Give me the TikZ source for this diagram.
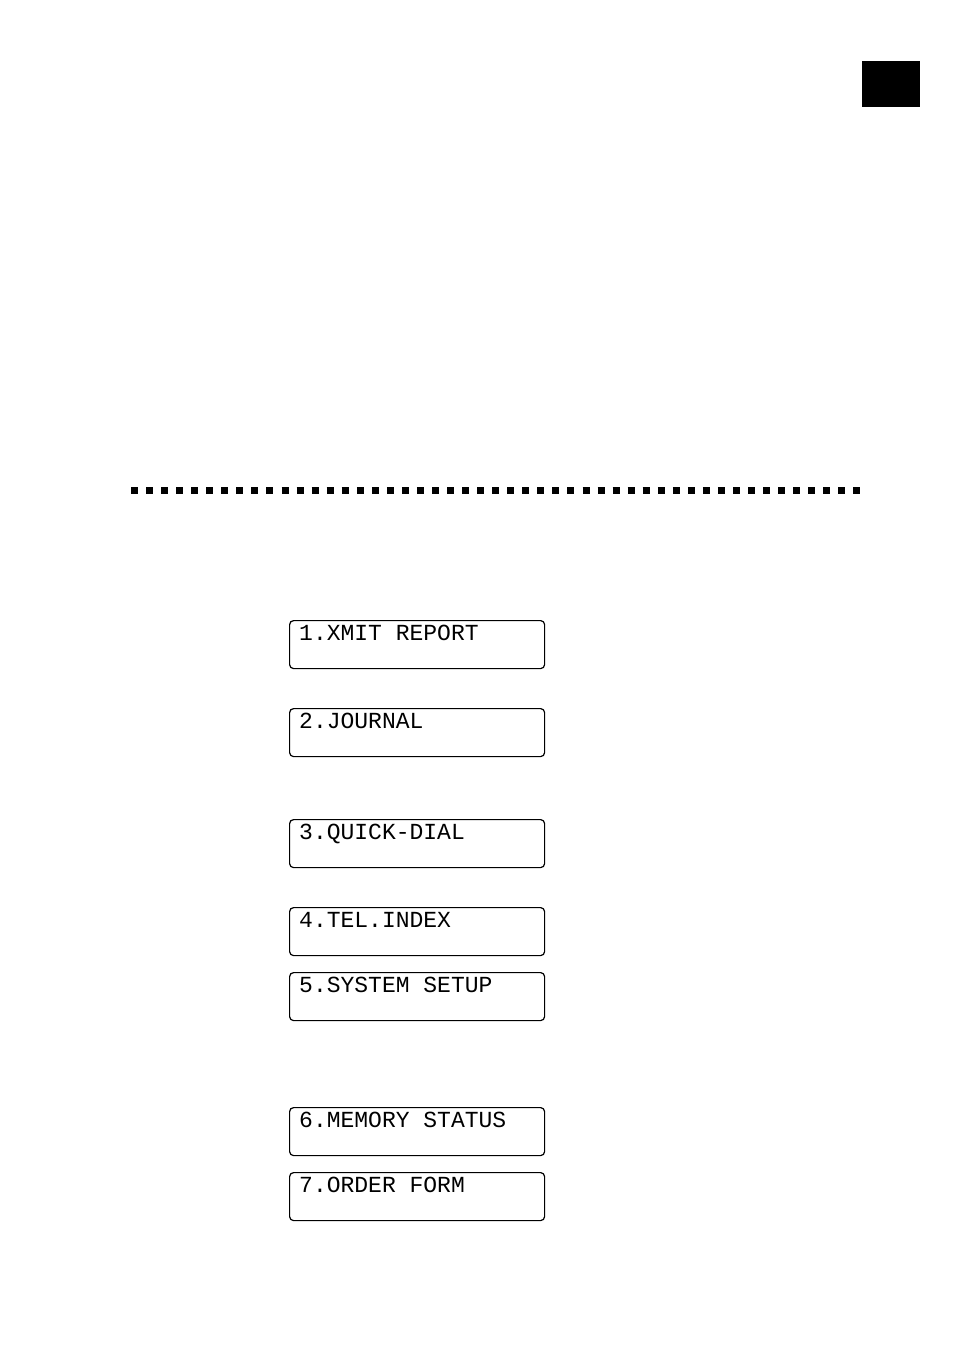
\documentclass[tikz,border=0pt]{standalone}
\usepackage{fontspec}
\newfontfamily\lcd{Liberation Mono}
\begin{document}
\begin{tikzpicture}[x=1pt,y=-1pt,
  lcdbox/.style={draw,line width=1.2pt,rounded corners=4pt,minimum width=255pt,minimum height=48pt,anchor=north west},
  lcdtext/.style={anchor=base west,inner sep=0pt,font=\lcd\fontsize{23}{23}\selectfont}]
\useasboundingbox (0,0) rectangle (954,1348);
\fill (862,61) rectangle (920,107);
\draw[line width=7pt,dash pattern=on 7pt off 8.05pt] (131,490) -- (866,490);
\foreach \n/\t/\y in {a/1.XMIT REPORT/620,b/2.JOURNAL/708,c/3.QUICK-DIAL/819,d/4.TEL.INDEX/907,e/5.SYSTEM SETUP/972,f/6.MEMORY STATUS/1107,g/7.ORDER FORM/1172}{
  \node[lcdbox] (\n) at (289,\y) {};
  \node[lcdtext] (\n t) at (299,\y+20) {\t};
}
\end{tikzpicture}
\end{document}
